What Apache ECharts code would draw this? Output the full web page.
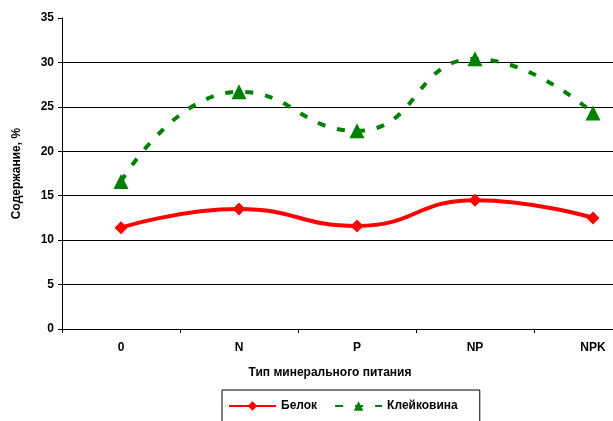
<!DOCTYPE html>
<html>
<head>
<meta charset="utf-8">
<script src="https://cdn.jsdelivr.net/npm/echarts@6/dist/echarts.min.js"></script>
<style>
  html, body { margin: 0; padding: 0; background: #fff; overflow: hidden; }
  #chart { width: 652px; height: 421px; }
</style>
</head>
<body>
<div id="chart"></div>
<script>
// categories and values
const categories = ['0', 'N', 'P', 'NP', 'NPK'];
const belok = [11.4, 13.5, 11.6, 14.5, 12.5];
const kleikovina = [16.6, 26.7, 22.3, 30.4, 24.3];

const font = 'Liberation Sans, Arial, sans-serif';

// the plot runs past the right edge of the picture, so the chart is wider than the window
const chart = echarts.init(document.getElementById('chart'));

const option = {
  backgroundColor: '#fff',
  animation: false,
  grid: {
    left: 62,
    top: 18,
    right: 0,
    bottom: 92
  },
  legend: {
    left: 222,
    top: 390,
    itemWidth: 47,
    itemHeight: 12,
    itemGap: 17,
    padding: [10, 22, 14, 6],
    borderColor: '#000',
    borderWidth: 1,
    textStyle: { fontFamily: font, fontWeight: 'bold', fontSize: 12, color: '#000' },
    data: ['Белок', 'Клейковина']
  },
  xAxis: {
    type: 'category',
    data: categories,
    boundaryGap: true,
    name: 'Тип минерального питания',
    nameLocation: 'middle',
    nameGap: 38,
    nameTextStyle: { fontFamily: font, fontWeight: 'bold', fontSize: 12, color: '#000', padding: [0, 54, 0, 0] },
    axisLine: { lineStyle: { color: '#000', width: 1 } },
    axisTick: { show: true, length: 4, lineStyle: { color: '#000' } },
    axisLabel: { fontFamily: font, fontWeight: 'bold', fontSize: 12, color: '#000', margin: 13 },
    splitLine: { show: false }
  },
  yAxis: {
    type: 'value',
    min: 0,
    max: 35,
    interval: 5,
    name: 'Содержание, %',
    nameLocation: 'middle',
    nameGap: 39,
    nameTextStyle: { fontFamily: font, fontWeight: 'bold', fontSize: 12, color: '#000' },
    axisLine: { show: true, lineStyle: { color: '#000', width: 1 } },
    axisTick: { show: true, length: 4, lineStyle: { color: '#000' } },
    axisLabel: { fontFamily: font, fontWeight: 'bold', fontSize: 12, color: '#000', margin: 8 },
    splitLine: {
      show: true,
      lineStyle: {
        color: ['#000', '#000', '#000', '#000', '#000', '#000', '#000', 'rgba(0,0,0,0)'],
        width: 1
      }
    }
  },
  series: [
    {
      name: 'Белок',
      type: 'line',
      data: belok,
      smooth: 0.5,
      symbol: 'diamond',
      symbolSize: 13,
      itemStyle: { color: '#ff0000' },
      lineStyle: { color: '#ff0000', width: 4 }
    },
    {
      name: 'Клейковина',
      type: 'line',
      data: kleikovina,
      smooth: 0.5,
      symbol: 'triangle',
      symbolSize: 15,
      itemStyle: { color: '#008000' },
      lineStyle: { color: '#008000', width: 4, type: [8, 12] }
    }
  ]
};

chart.setOption(option);
</script>
</body>
</html>
